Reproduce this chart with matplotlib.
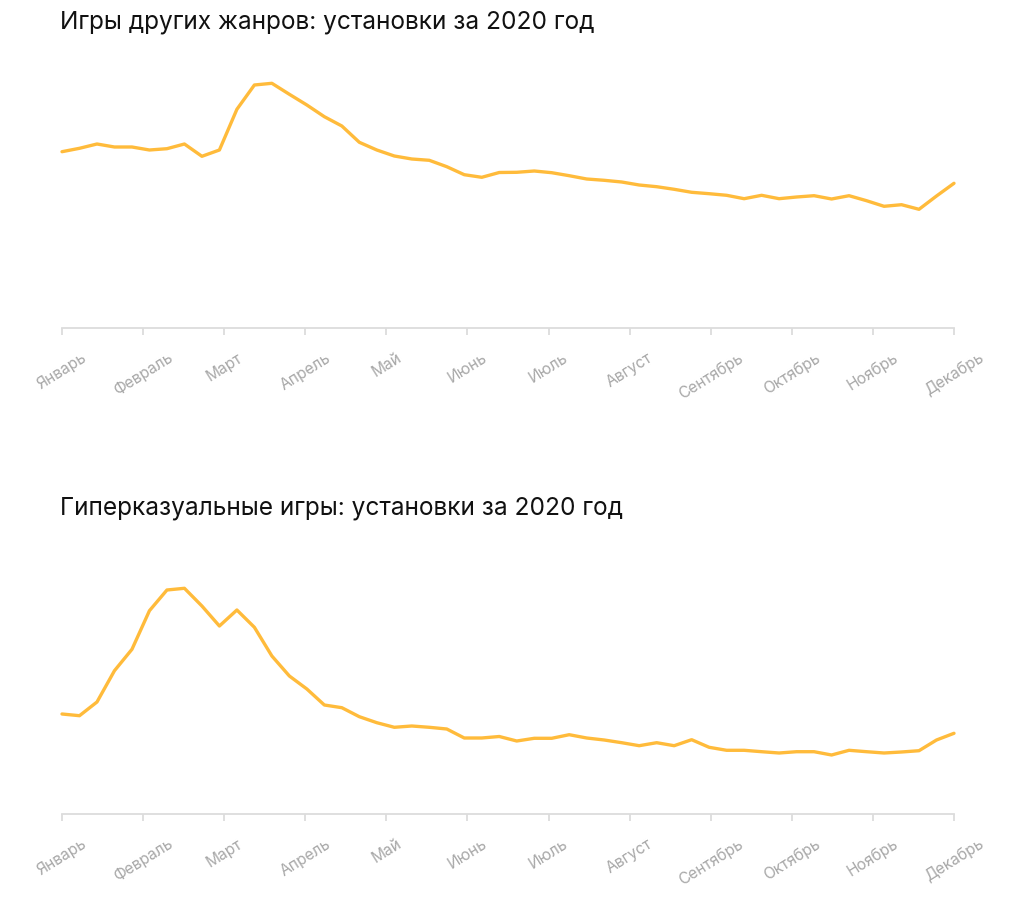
import matplotlib
matplotlib.use("Agg")
import matplotlib.pyplot as plt
import numpy as np

months = ["Январь", "Февраль", "Март", "Апрель", "Май", "Июнь", "Июль",
          "Август", "Сентябрь", "Октябрь", "Ноябрь", "Декабрь"]

title_other = "Игры других жанров: установки за 2020 год"
title_hyper = "Гиперказуальные игры: установки за 2020 год"

# weekly installs (relative units)
other_games = [176.3, 179.7, 184, 181, 181, 178, 179.3, 184, 171.7, 178,
               218.7, 243, 244.7, 233.7, 223, 211.3, 202, 185.7, 178, 172,
               169, 167.7, 161.3, 153.3, 150.7, 155.5, 155.7, 157, 155.3, 152.3,
               149, 147.7, 146, 143, 141.3, 138.7, 135.7, 134.3, 132.7, 129.3,
               132.7, 129.3, 131, 132.3, 129, 132.3, 127.3, 121.7, 123.3, 118.7,
               132, 144.7]

hyper_games = [100, 98.3, 112, 143.3, 164.7, 203.3, 224, 225.7, 208, 188,
               204, 186.7, 158, 138, 125, 109, 106.3, 97.3, 91.3, 86.7,
               88, 86.7, 85, 76, 76, 77.5, 73, 75.7, 75.7, 79.3,
               76, 74, 71.3, 68.3, 71.3, 68.3, 74.3, 66.7, 63.7, 63.7,
               62.3, 61, 62.3, 62.3, 59, 63.7, 62.3, 61, 62, 63.3,
               74, 80.7]

W, H = 1024, 901
fig = plt.figure(figsize=(W / 100, H / 100), dpi=100)
fig.patch.set_facecolor("white")

line_color = "#FFBB3B"
axis_color = "#DCDCDC"
label_color = "#A8A8A8"
font = ["Inter", "DejaVu Sans"]

def make_axes(bottom_px, series, title, title_y_px):
    left, right = 62, 954
    height = 268
    ax = fig.add_axes([left / W, (H - bottom_px) / H, (right - left) / W, height / H])
    x = np.arange(len(series))
    ax.plot(x, series, color=line_color, lw=2.4, solid_joinstyle="round",
            solid_capstyle="round", clip_on=False)
    n = len(series) - 1
    ax.set_xlim(0, n)
    ax.set_ylim(0, height)
    for s in ["top", "left", "right"]:
        ax.spines[s].set_visible(False)
    ax.spines["bottom"].set_color(axis_color)
    ax.spines["bottom"].set_linewidth(1.3)
    ticks = np.linspace(0, n, len(months))
    ax.set_xticks(ticks)
    ax.set_xticklabels(months, rotation=32, ha="center", rotation_mode="default",
                       color=label_color, fontsize=11.2, family=font)
    ax.tick_params(axis="x", length=5, width=1.3, color=axis_color, pad=11)
    ax.set_yticks([])
    fig.text(60 / W, 1 - title_y_px / H, title, fontsize=17.6, family=font,
             color="#111111", va="center", ha="left")
    return ax

make_axes(328, other_games, title_other, 22)
make_axes(814, hyper_games, title_hyper, 508)

fig.savefig("out.png", dpi=100, facecolor="white")
